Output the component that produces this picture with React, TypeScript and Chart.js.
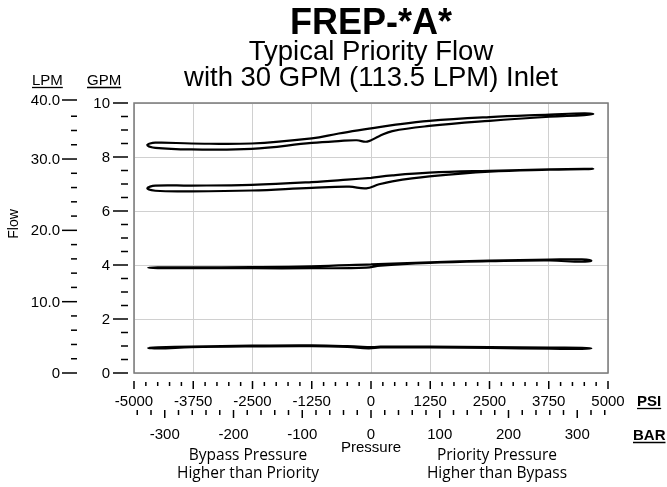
import React, { useEffect, useRef } from 'react';
import { Chart, registerables } from 'chart.js';

Chart.register(...registerables);

const FONT = "'Liberation Sans', Arial, Helvetica, sans-serif";
const NOTE_FONT = "'Open Sans', 'Liberation Sans', sans-serif";

const TITLE = 'FREP-*A*';
const SUBTITLE = ['Typical Priority Flow', 'with 30 GPM (113.5 LPM) Inlet'];

const PSI_TICKS = [-5000, -3750, -2500, -1250, 0, 1250, 2500, 3750, 5000];
const BAR_TICKS = [-300, -200, -100, 0, 100, 200, 300];
const GPM_TICKS = [0, 2, 4, 6, 8, 10];
const LPM_TICKS = [0, 10, 20, 30, 40];
const LPM_LABELS = ['0', '10.0', '20.0', '30.0', '40.0'];
const PSI_PER_BAR = 14.5038;
const LPM_PER_GPM = 3.78541;

// Loop 1 (top)
const L1_UP_PSI = [-4720, -4550, -3790, -2520, -1250, -680, -40, 450, 1230, 2500, 3770, 4500, 4690];
const L1_UP_GPM = [8.44, 8.53, 8.5, 8.5, 8.69, 8.87, 9.05, 9.18, 9.34, 9.48, 9.57, 9.62, 9.59];
const L1_LO_PSI = [-4550, -3790, -2520, -1250, -680, -300, -80, 170, 450, 1230, 2500, 3770, 4500];
const L1_LO_GPM = [8.34, 8.28, 8.3, 8.52, 8.59, 8.62, 8.57, 8.77, 8.96, 9.15, 9.34, 9.49, 9.55];

// Loop 2
const L2_UP_PSI = [-4720, -4550, -3790, -2520, -1250, -500, 0, 450, 1230, 2500, 3770, 4500, 4690];
const L2_UP_GPM = [6.84, 6.94, 6.94, 6.97, 7.07, 7.16, 7.23, 7.32, 7.42, 7.49, 7.54, 7.565, 7.56];
const L2_LO_PSI = [-4550, -3790, -2520, -1250, -460, -100, 170, 450, 1230, 2500, 3770, 4500];
const L2_LO_GPM = [6.75, 6.73, 6.76, 6.86, 6.9, 6.84, 6.99, 7.1, 7.28, 7.46, 7.53, 7.55];

// Loop 3
const L3_UP_PSI = [-4700, -4500, -3790, -2520, -1250, 0, 1230, 2500, 3770, 4450, 4650];
const L3_UP_GPM = [3.9, 3.915, 3.91, 3.92, 3.95, 4.02, 4.1, 4.16, 4.2, 4.21, 4.16];
const L3_LO_PSI = [-4500, -3790, -2520, -1250, -100, 200, 1230, 2500, 3770, 4450];
const L3_LO_GPM = [3.885, 3.88, 3.88, 3.88, 3.9, 3.98, 4.08, 4.14, 4.17, 4.12];

// Loop 4 (bottom)
const L4_UP_PSI = [-4700, -4500, -3790, -2520, -1250, -500, 0, 200, 1230, 2500, 3770, 4450, 4650];
const L4_UP_GPM = [0.93, 0.95, 0.98, 1.015, 1.025, 0.995, 0.955, 0.975, 0.975, 0.955, 0.94, 0.935, 0.915];
const L4_LO_PSI = [-4500, -3790, -2520, -1250, -500, -50, 200, 1230, 2500, 3770, 4450];
const L4_LO_GPM = [0.91, 0.955, 0.985, 0.995, 0.965, 0.915, 0.945, 0.945, 0.925, 0.9, 0.89];

function buildLoop(upX: number[], upY: number[], loX: number[], loY: number[]) {
  const up = upX.map((x, i) => ({ x, y: upY[i] }));
  const lo = loX.map((x, i) => ({ x, y: loY[i] }));
  const m = Math.floor(up.length / 2);
  return [...up.slice(m), ...lo.slice().reverse(), ...up.slice(0, m + 1)];
}

function seg(ctx: CanvasRenderingContext2D, x1: number, y1: number, x2: number, y2: number) {
  ctx.beginPath();
  ctx.moveTo(x1, y1);
  ctx.lineTo(x2, y2);
  ctx.stroke();
}

function underlined(ctx: CanvasRenderingContext2D, text: string, x: number, y: number) {
  ctx.textAlign = 'left';
  ctx.textBaseline = 'alphabetic';
  ctx.fillText(text, x, y);
  const w = ctx.measureText(text).width;
  ctx.lineWidth = 1.3;
  seg(ctx, x, y + 2.5, x + w, y + 2.5);
}

const axesPlugin = {
  id: 'customAxes',
  beforeDraw(chart: any) {
    const ctx = chart.ctx;
    ctx.save();
    ctx.fillStyle = '#fff';
    ctx.fillRect(0, 0, chart.width, chart.height);
    ctx.restore();
  },
  afterDraw(chart: any) {
    const ctx: CanvasRenderingContext2D = chart.ctx;
    const ca = chart.chartArea;
    const xs = chart.scales.x;
    const ys = chart.scales.y;
    ctx.save();
    // frame
    ctx.strokeStyle = '#7a7a7a';
    ctx.lineWidth = 1.5;
    ctx.strokeRect(ca.left, ca.top, ca.right - ca.left, ca.bottom - ca.top);

    ctx.strokeStyle = '#000';
    ctx.fillStyle = '#000';
    ctx.lineWidth = 1.5;
    ctx.font = `15px ${FONT}`;

    // GPM axis
    for (let i = 0; i <= 20; i++) {
      const v = i * 0.5;
      const y = ys.getPixelForValue(v);
      const major = GPM_TICKS.includes(v);
      seg(ctx, ca.left - (major ? 21 : 13), y, ca.left - 6, y);
    }
    ctx.textAlign = 'right';
    ctx.textBaseline = 'middle';
    GPM_TICKS.forEach((v) => {
      ctx.fillText(String(v), ca.left - 24, ys.getPixelForValue(v) + 1);
    });

    // LPM axis
    for (let v = 2; v <= 36; v += 2) {
      if (v % 10 === 0) continue;
      const y = ys.getPixelForValue(v / LPM_PER_GPM);
      seg(ctx, ca.left - 63, y, ca.left - 57, y);
    }
    LPM_TICKS.forEach((v, i) => {
      const y = Math.max(ys.getPixelForValue(v / LPM_PER_GPM), ca.top - 3);
      seg(ctx, ca.left - 72, y, ca.left - 57, y);
      ctx.textAlign = 'right';
      ctx.textBaseline = 'middle';
      ctx.fillText(LPM_LABELS[i], ca.left - 74, y + 1);
    });

    // PSI axis
    ctx.lineWidth = 1.5;
    for (let v = -5000; v <= 5000; v += 250) {
      const x = xs.getPixelForValue(v);
      const major = PSI_TICKS.includes(v);
      seg(ctx, x, ca.bottom + (major ? 8 : 9), x, ca.bottom + (major ? 16 : 13));
    }
    ctx.textAlign = 'center';
    ctx.textBaseline = 'middle';
    PSI_TICKS.forEach((v) => {
      ctx.fillText(String(v), xs.getPixelForValue(v), ca.bottom + 29);
    });

    // BAR axis
    for (let v = -340; v <= 340; v += 20) {
      const x = xs.getPixelForValue(v * PSI_PER_BAR);
      const major = BAR_TICKS.includes(v);
      seg(ctx, x, ca.bottom + 37, x, ca.bottom + (major ? 45 : 42));
    }
    ctx.textAlign = 'center';
    ctx.textBaseline = 'middle';
    BAR_TICKS.forEach((v) => {
      ctx.fillText(String(v), xs.getPixelForValue(v * PSI_PER_BAR), ca.bottom + 62);
    });

    // Unit labels
    ctx.font = `15px ${FONT}`;
    underlined(ctx, 'LPM', 32, 85);
    underlined(ctx, 'GPM', 87, 85);
    ctx.font = `bold 15px ${FONT}`;
    underlined(ctx, 'PSI', 637, 406);
    underlined(ctx, 'BAR', 633, 440);

    // Axis titles
    ctx.font = `14px ${FONT}`;
    ctx.save();
    ctx.translate(14, 224);
    ctx.rotate(-Math.PI / 2);
    ctx.textAlign = 'center';
    ctx.textBaseline = 'middle';
    ctx.fillText('Flow', 0, 0);
    ctx.restore();

    ctx.font = `15px ${FONT}`;
    ctx.textAlign = 'center';
    ctx.textBaseline = 'middle';
    ctx.fillText('Pressure', xs.getPixelForValue(0), 448);

    ctx.font = `15.5px ${NOTE_FONT}`;
    ctx.fillText('Bypass Pressure', 248, 456);
    ctx.fillText('Higher than Priority', 248, 474);
    ctx.fillText('Priority Pressure', 497, 456);
    ctx.fillText('Higher than Bypass', 497, 474);

    ctx.restore();
  },
};

export default function App() {
  const ref = useRef<HTMLCanvasElement | null>(null);
  useEffect(() => {
    if (!ref.current) return;
    const mk = (data: { x: number; y: number }[]) => ({
      data,
      showLine: true,
      borderColor: '#000',
      borderWidth: 2.2,
      pointRadius: 0,
      pointHoverRadius: 0,
      tension: 0.4,
      fill: false,
    });
    const chart = new Chart(ref.current, {
      type: 'scatter',
      data: {
        datasets: [
          mk(buildLoop(L1_UP_PSI, L1_UP_GPM, L1_LO_PSI, L1_LO_GPM)),
          mk(buildLoop(L2_UP_PSI, L2_UP_GPM, L2_LO_PSI, L2_LO_GPM)),
          mk(buildLoop(L3_UP_PSI, L3_UP_GPM, L3_LO_PSI, L3_LO_GPM)),
          mk(buildLoop(L4_UP_PSI, L4_UP_GPM, L4_LO_PSI, L4_LO_GPM)),
        ],
      },
      options: {
        responsive: false,
        animation: false,
        devicePixelRatio: 1,
        layout: { padding: { left: 134, right: 59, top: 0, bottom: 114 } },
        plugins: {
          legend: { display: false },
          tooltip: { enabled: false },
          title: {
            display: true,
            text: TITLE,
            color: '#000',
            font: { family: FONT, size: 36, weight: 'bold', lineHeight: 0.8 },
            padding: { top: 10, bottom: 0 },
          },
          subtitle: {
            display: true,
            text: SUBTITLE,
            color: '#000',
            font: { family: FONT, size: 27.5, lineHeight: 0.96 },
            padding: { top: 0, bottom: 11.4 },
          },
        },
        scales: {
          x: {
            type: 'linear',
            min: -5000,
            max: 5000,
            ticks: { display: false, stepSize: 1250 },
            grid: { color: '#d0d0d0', lineWidth: 1, drawTicks: false },
            border: { display: false },
          },
          y: {
            type: 'linear',
            min: 0,
            max: 10,
            ticks: { display: false, stepSize: 2 },
            grid: { color: '#d0d0d0', lineWidth: 1, drawTicks: false },
            border: { display: false },
          },
        },
      },
      plugins: [axesPlugin],
    } as any);
    return () => chart.destroy();
  }, []);
  return (
    <div style={{ position: 'fixed', left: 0, top: 0, width: 667, height: 487 }}>
      <canvas ref={ref} width={667} height={487} style={{ display: 'block' }} />
    </div>
  );
}
